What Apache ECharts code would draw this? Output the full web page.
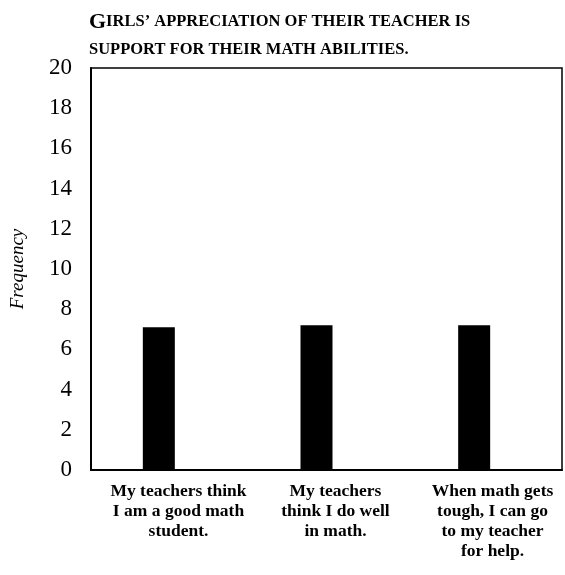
<!DOCTYPE html>
<html>
<head>
<meta charset="utf-8">
<script src="https://cdn.jsdelivr.net/npm/echarts@6/dist/echarts.min.js"></script>
<style>
  html, body { margin: 0; padding: 0; background: #fff; }
  #main { width: 565px; height: 575px; }
</style>
</head>
<body>
<div id="main"></div>
<script>
var categories = [
  'My teachers think\nI am a good math\nstudent.',
  'My teachers\nthink I do well\nin math.',
  'When math gets\ntough, I can go\nto my teacher\nfor help.'
];
var frequency = [7.1, 7.2, 7.2];
var yTicks = [0, 2, 4, 6, 8, 10, 12, 14, 16, 18, 20];

var serif = '"Liberation Serif", "DejaVu Serif", serif';
var myChart = echarts.init(document.getElementById('main'));

var option = {
  backgroundColor: '#fff',
  title: {
    text: '{big|G}{small|IRLS\u2019 APPRECIATION OF THEIR TEACHER IS}\n{small|SUPPORT FOR THEIR MATH ABILITIES.}',
    left: 84,
    top: 3,
    textStyle: {
      fontFamily: serif,
      fontWeight: 'bold',
      lineHeight: 28,
      rich: {
        big: { fontSize: 22, fontFamily: serif, fontWeight: 'bold', color: '#000', lineHeight: 28 },
        small: { fontSize: 16.5, fontFamily: serif, fontWeight: 'bold', color: '#000', lineHeight: 28 }
      }
    }
  },
  grid: [
    { left: 89, right: 3, top: 68, bottom: 105, show: true, borderColor: '#000', borderWidth: 1.5 },
    { left: 80, right: 12, top: 68, bottom: 105 }
  ],
  xAxis: [
    {
      type: 'category',
      gridIndex: 0,
      data: categories,
      axisLine: { lineStyle: { color: '#000', width: 2 } },
      axisTick: { show: false },
      axisLabel: {
        interval: 0,
        margin: 11,
        padding: [0, 0, 0, 18],
        color: '#000',
        fontFamily: serif,
        fontSize: 17.5,
        fontWeight: 'bold',
        lineHeight: 20,
        align: 'center'
      }
    },
    {
      type: 'category',
      gridIndex: 1,
      data: categories,
      show: false
    }
  ],
  yAxis: [
    {
      type: 'value',
      gridIndex: 0,
      min: 0,
      max: 20,
      interval: 2,
      name: 'Frequency',
      nameLocation: 'middle',
      nameGap: 64,
      nameRotate: 90,
      nameTextStyle: { fontFamily: serif, fontStyle: 'italic', fontSize: 19, color: '#000' },
      axisLine: { show: true, lineStyle: { color: '#000', width: 2 } },
      axisTick: { show: false },
      splitLine: { show: false },
      axisLabel: {
        color: '#000',
        fontFamily: serif,
        fontSize: 23,
        margin: 19,
        formatter: function (v) { return yTicks.indexOf(v) >= 0 ? String(v) : ''; }
      }
    },
    {
      type: 'value',
      gridIndex: 1,
      min: 0,
      max: 20,
      show: false
    }
  ],
  series: [
    {
      type: 'bar',
      xAxisIndex: 1,
      yAxisIndex: 1,
      data: frequency,
      barWidth: 32,
      itemStyle: { color: '#000' },
      silent: true
    }
  ]
};

myChart.setOption(option);
window.onresize = function () {
  myChart.resize();
};
</script>
</body>
</html>
